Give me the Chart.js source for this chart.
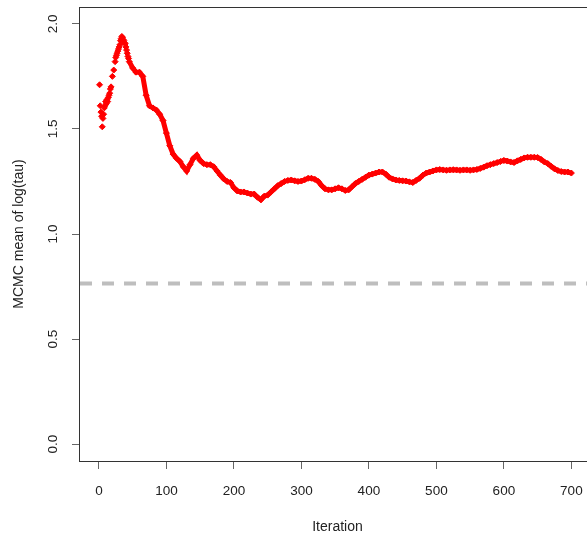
<!DOCTYPE html>
<html>
<head>
<meta charset="utf-8">
<script src="https://cdn.jsdelivr.net/npm/chart.js@4"></script>
<style>
  html, body { margin: 0; padding: 0; background: #fff; }
  #wrap { width: 587px; height: 536px; overflow: hidden; }
</style>
</head>
<body>
<div id="wrap"><canvas id="trace" width="600" height="536"></canvas></div>
<script>
// running mean of log(tau), first iterations (scattered points)
const burnIter = [1, 2, 3, 4, 5, 6, 7, 8, 9, 10, 11, 12, 13, 14, 15, 16, 17, 18, 20, 22,
  24, 25, 26, 27, 28, 29, 30, 31, 32, 33, 34, 35, 36, 37, 38, 39, 40, 41, 42, 43, 44];
const burnMean = [1.71, 1.61, 1.58, 1.56, 1.51, 1.55, 1.57, 1.60, 1.61, 1.63, 1.62, 1.64, 1.63, 1.65, 1.66, 1.67, 1.69, 1.70, 1.75, 1.78,
  1.82, 1.84, 1.85, 1.86, 1.87, 1.88, 1.89, 1.90, 1.92, 1.93, 1.94, 1.935, 1.925, 1.92, 1.91, 1.905, 1.89, 1.875, 1.86, 1.845, 1.835];

// running mean after that, every 5th iteration
const iter = [45, 50, 55, 60, 65, 70, 75, 80, 85, 90, 95, 100, 105, 110, 115, 120, 125, 130, 135, 140,
  145, 150, 155, 160, 165, 170, 175, 180, 185, 190, 195, 200, 205, 210, 215, 220, 225, 230, 235, 240,
  245, 250, 255, 260, 265, 270, 275, 280, 285, 290, 295, 300, 305, 310, 315, 320, 325, 330, 335, 340,
  345, 350, 355, 360, 365, 370, 375, 380, 385, 390, 395, 400, 405, 410, 415, 420, 425, 430, 435, 440,
  445, 450, 455, 460, 465, 470, 475, 480, 485, 490, 495, 500, 505, 510, 515, 520, 525, 530, 535, 540,
  545, 550, 555, 560, 565, 570, 575, 580, 585, 590, 595, 600, 605, 610, 615, 620, 625, 630, 635, 640,
  645, 650, 655, 660, 665, 670, 675, 680, 685, 690, 695, 700];
const meanLogTau = [1.82, 1.79, 1.77, 1.77, 1.75, 1.66, 1.61, 1.60, 1.59, 1.57, 1.54, 1.48, 1.42, 1.38, 1.36, 1.345, 1.32, 1.30, 1.33, 1.36,
  1.375, 1.35, 1.335, 1.33, 1.33, 1.32, 1.30, 1.28, 1.262, 1.25, 1.245, 1.22, 1.205, 1.20, 1.20, 1.195, 1.19, 1.19, 1.175, 1.163,
  1.18, 1.185, 1.20, 1.215, 1.23, 1.24, 1.25, 1.255, 1.257, 1.253, 1.25, 1.252, 1.258, 1.265, 1.265, 1.26, 1.25, 1.23, 1.215, 1.21,
  1.21, 1.215, 1.22, 1.215, 1.207, 1.21, 1.225, 1.24, 1.25, 1.26, 1.27, 1.28, 1.285, 1.29, 1.295, 1.295, 1.285, 1.27, 1.262, 1.257,
  1.255, 1.253, 1.252, 1.248, 1.245, 1.255, 1.265, 1.28, 1.29, 1.295, 1.30, 1.305, 1.307, 1.305, 1.303, 1.305, 1.306, 1.305, 1.303, 1.305,
  1.305, 1.303, 1.305, 1.307, 1.312, 1.318, 1.325, 1.33, 1.335, 1.34, 1.345, 1.35, 1.347, 1.343, 1.34, 1.348, 1.355, 1.362, 1.365, 1.365,
  1.365, 1.364, 1.355, 1.343, 1.335, 1.322, 1.31, 1.302, 1.297, 1.295, 1.295, 1.29];

// reference level (dashed line)
const trueLogTau = 0.764;

const xTicks = [0, 100, 200, 300, 400, 500, 600, 700];
const yTicks = [0, 0.5, 1, 1.5, 2];
const xMin = -28, xMax = 735;
const yMin = -0.08, yMax = 2.08;

const red = '#ff0000';
const font = { family: 'Liberation Sans, Arial, sans-serif', size: 14 };
const tickFont = { family: 'Liberation Sans, Arial, sans-serif', size: 13.5 };

// box around the plot region
const boxPlugin = {
  id: 'box',
  afterDraw(chart) {
    const a = chart.chartArea, c = chart.ctx;
    c.save();
    c.strokeStyle = '#333';
    c.lineWidth = 1;
    c.strokeRect(Math.round(a.left) - 0.5, Math.round(a.top) + 0.5,
      Math.round(a.right - a.left), Math.round(a.bottom - a.top));
    c.restore();
  }
};

new Chart(document.getElementById('trace'), {
  type: 'scatter',
  data: {
    datasets: [
      {
        data: burnIter.map((x, i) => ({ x: x, y: burnMean[i] })),
        showLine: false,
        pointStyle: 'rectRot',
        pointRadius: 3,
        pointBorderWidth: 1,
        pointBackgroundColor: red,
        pointBorderColor: red
      },
      {
        data: iter.map((x, i) => ({ x: x, y: meanLogTau[i] })),
        showLine: true,
        borderColor: red,
        borderWidth: 5,
        tension: 0,
        pointStyle: 'rectRot',
        pointRadius: 3,
        pointBorderWidth: 1,
        pointBackgroundColor: red,
        pointBorderColor: red
      },
      {
        data: [{ x: xMin, y: trueLogTau }, { x: xMax, y: trueLogTau }],
        showLine: true,
        borderColor: '#bebebe',
        borderWidth: 4,
        borderDash: [12, 10],
        borderCapStyle: 'butt',
        pointRadius: 0
      }
    ]
  },
  options: {
    responsive: false,
    animation: false,
    layout: { padding: { top: 7, right: 3, left: 0, bottom: 0 } },
    plugins: { legend: { display: false }, tooltip: { enabled: false } },
    scales: {
      x: {
        type: 'linear',
        min: xMin,
        max: xMax,
        afterBuildTicks: s => { s.ticks = xTicks.map(v => ({ value: v })); },
        afterFit: s => { s.height = 75; s.paddingLeft = 0; s.paddingRight = 0; },
        grid: { drawOnChartArea: false, drawTicks: true, tickLength: 8, tickColor: '#666' },
        border: { display: false },
        ticks: { color: '#222', font: tickFont, padding: 14, maxRotation: 0 },
        title: { display: true, text: 'Iteration', color: '#222', font: font, padding: { top: 3, bottom: 0 } }
      },
      y: {
        type: 'linear',
        min: yMin,
        max: yMax,
        afterBuildTicks: s => { s.ticks = yTicks.map(v => ({ value: v })); },
        // rotated labels would otherwise push the plot region down
        afterFit: s => { s.width = 80; s.paddingTop = 0; s.paddingBottom = 0; },
        grid: { drawOnChartArea: false, drawTicks: true, tickLength: 8, tickColor: '#666' },
        border: { display: false },
        ticks: {
          color: '#222', font: tickFont, padding: 9,
          minRotation: 90, maxRotation: 90, crossAlign: 'center',
          callback: v => v.toFixed(1)
        },
        title: { display: true, text: 'MCMC mean of log(tau)', color: '#222', font: font, padding: { top: 10.5, bottom: 0 } }
      }
    }
  },
  plugins: [boxPlugin]
});
</script>
</body>
</html>
